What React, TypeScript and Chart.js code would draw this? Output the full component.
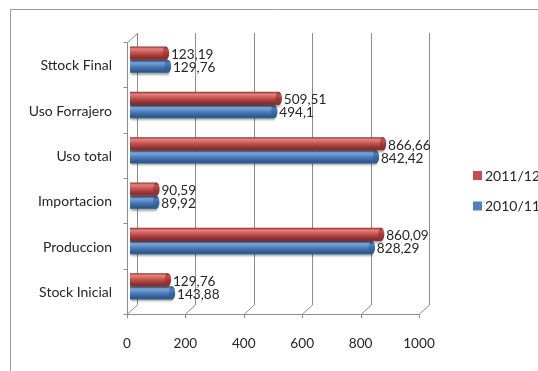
import React, { useEffect, useRef } from "react";
import { Chart, registerables } from "chart.js";

Chart.register(...registerables);

const categories = ["Sttock Final", "Uso Forrajero", "Uso total", "Importacion", "Produccion", "Stock Inicial"];
const series2011 = [123.19, 509.51, 866.66, 90.59, 860.09, 129.76];
const series2010 = [129.76, 494.1, 842.42, 89.92, 828.29, 143.88];
const seriesLabels = ["2011/12", "2010/11"];
const xMin = 0;
const xMax = 1000;
const xStep = 200;

const FONT = "Lato, 'Open Sans', sans-serif";
const TEXT = "#262626";
const GRID = "#8c8c8c";
const CAT_PCT = 0.58;

const palettes = [
  { base: "#C0504D", light: "#E5837F", dark: "#8A2F2C", cap: "#9B3532" },
  { base: "#4F81BD", light: "#86AEE3", dark: "#2E5A8E", cap: "#35659E" },
];

function barGeom(chart: any, datasetIndex: number, dataIndex: number) {
  const ys = chart.scales.y;
  if (!ys) return null;
  const center = ys.getPixelForValue(dataIndex);
  const band = (ys.bottom - ys.top) / categories.length;
  const group = band * CAT_PCT;
  const h = group / 2;
  const top = center - group / 2 + datasetIndex * h;
  return { top, h };
}

function cylFill(c: any) {
  const p = palettes[c.datasetIndex] || palettes[0];
  if (c.dataIndex === undefined) return p.base;
  const g = barGeom(c.chart, c.datasetIndex, c.dataIndex);
  if (!g || !isFinite(g.top)) return p.base;
  const grad = c.chart.ctx.createLinearGradient(0, g.top, 0, g.top + g.h);
  grad.addColorStop(0, p.dark);
  grad.addColorStop(0.18, p.light);
  grad.addColorStop(0.5, p.base);
  grad.addColorStop(0.85, p.dark);
  grad.addColorStop(1, p.dark);
  return grad;
}

const wallPlugin = {
  id: "wall3d",
  beforeDatasetsDraw(chart: any) {
    const { ctx, chartArea } = chart;
    const xs = chart.scales.x;
    const ys = chart.scales.y;
    const fdx = -3, fdy = 5; // front plane offset
    const bdx = 7, bdy = -4; // back plane offset
    ctx.save();
    ctx.strokeStyle = GRID;
    ctx.lineWidth = 1;
    ctx.beginPath();
    xs.ticks.forEach((t: any) => {
      const x = Math.round(xs.getPixelForValue(t.value)) + 0.5;
      ctx.moveTo(x + bdx, chartArea.top + bdy);
      ctx.lineTo(x + bdx, chartArea.bottom + bdy);
      ctx.moveTo(x + fdx, chartArea.bottom + fdy);
      ctx.lineTo(x + bdx, chartArea.bottom + bdy);
      ctx.moveTo(x + fdx, chartArea.bottom + fdy);
      ctx.lineTo(x + fdx, chartArea.bottom + fdy + 4);
    });
    const x0 = Math.round(xs.getPixelForValue(xMin)) + 0.5;
    const x1 = Math.round(xs.getPixelForValue(xMax)) + 0.5;
    const yb = Math.round(chartArea.bottom) + fdy + 0.5;
    const yt = Math.round(chartArea.top) + fdy + 0.5;
    ctx.moveTo(x0 + fdx, yb);
    ctx.lineTo(x1 + fdx, yb);
    ctx.moveTo(x0 + fdx, yt);
    ctx.lineTo(x0 + fdx, yb);
    ctx.moveTo(x0 + fdx, yt);
    ctx.lineTo(x0 + bdx, Math.round(chartArea.top) + bdy + 0.5);
    const band = (ys.bottom - ys.top) / categories.length;
    for (let i = 0; i <= categories.length; i++) {
      const y = Math.round(ys.top + i * band) + fdy + 0.5;
      ctx.moveTo(x0 + fdx - 4, y);
      ctx.lineTo(x0 + fdx, y);
    }
    ctx.stroke();
    ctx.restore();
  },
  beforeDatasetDraw(chart: any) {
    const ctx = chart.ctx;
    ctx.save();
    ctx.shadowColor = "rgba(0,0,0,0.35)";
    ctx.shadowBlur = 2;
    ctx.shadowOffsetX = 1;
    ctx.shadowOffsetY = 2;
  },
  afterDatasetDraw(chart: any, args: any) {
    const ctx = chart.ctx;
    ctx.restore();
    const meta = args.meta;
    const p = palettes[args.index];
    ctx.save();
    meta.data.forEach((el: any) => {
      const h = el.height;
      const grad = ctx.createLinearGradient(0, el.y - h / 2, 0, el.y + h / 2);
      grad.addColorStop(0, p.dark);
      grad.addColorStop(0.25, p.base);
      grad.addColorStop(0.6, p.cap);
      grad.addColorStop(1, p.dark);
      ctx.fillStyle = grad;
      ctx.beginPath();
      ctx.ellipse(el.x, el.y, 3.2, h / 2, 0, 0, Math.PI * 2);
      ctx.fill();
    });
    ctx.restore();
  },
  afterDatasetsDraw(chart: any) {
    const ctx = chart.ctx;
    ctx.save();
    ctx.font = `13.6px ${FONT}`;
    ctx.fillStyle = TEXT;
    ctx.textAlign = "left";
    ctx.textBaseline = "middle";
    chart.data.datasets.forEach((ds: any, di: number) => {
      const meta = chart.getDatasetMeta(di);
      meta.data.forEach((el: any, i: number) => {
        const txt = String(ds.data[i]).replace(".", ",");
        ctx.fillText(txt, el.x + 5, el.y + 1.5);
      });
    });
    const lx = 473;
    const ly = [175.5, 206];
    ctx.font = `14px ${FONT}`;
    chart.data.datasets.forEach((ds: any, di: number) => {
      ctx.fillStyle = palettes[di].base;
      ctx.fillRect(lx, ly[di] - 4.5, 9, 9);
      ctx.fillStyle = TEXT;
      ctx.fillText(ds.label, lx + 12, ly[di] + 0.5);
    });
    ctx.strokeStyle = "#9a9a9a";
    ctx.lineWidth = 1;
    ctx.beginPath();
    ctx.moveTo(10.5, chart.height);
    ctx.lineTo(10.5, 9.5);
    ctx.lineTo(chart.width, 9.5);
    ctx.stroke();
    ctx.restore();
  },
};

export default function App() {
  const ref = useRef<HTMLCanvasElement | null>(null);
  useEffect(() => {
    if (!ref.current) return;
    const chart = new Chart(ref.current, {
      type: "bar",
      data: {
        labels: categories,
        datasets: [
          { label: seriesLabels[0], data: series2011, backgroundColor: cylFill, borderWidth: 0 },
          { label: seriesLabels[1], data: series2010, backgroundColor: cylFill, borderWidth: 0 },
        ],
      },
      options: {
        indexAxis: "y",
        responsive: false,
        animation: false,
        devicePixelRatio: 1,
        layout: { padding: { left: 0, top: 37, right: 116, bottom: 12 } },
        datasets: { bar: { categoryPercentage: CAT_PCT, barPercentage: 1 } },
        plugins: { legend: { display: false }, tooltip: { enabled: false } },
        scales: {
          x: {
            min: xMin,
            max: xMax,
            grid: { display: false, drawTicks: false },
            border: { display: false },
            ticks: {
              stepSize: xStep,
              padding: 26,
              labelOffset: -3,
              color: TEXT,
              font: { family: FONT, size: 13.6 },
              callback: (v: any) => String(v),
            },
            afterFit: (s: any) => { s.height = 50; },
          },
          y: {
            grid: { display: false, drawTicks: false },
            border: { display: false },
            ticks: { padding: 18, labelOffset: 6, color: TEXT, font: { family: FONT, size: 14 } },
            afterFit: (s: any) => { s.width = 130; },
          },
        },
      },
      plugins: [wallPlugin],
    } as any);
    return () => chart.destroy();
  }, []);
  return (
    <div style={{ position: "absolute", left: 0, top: 0, width: 538, height: 371, background: "#fff" }}>
      <canvas ref={ref} width={538} height={371} />
    </div>
  );
}
